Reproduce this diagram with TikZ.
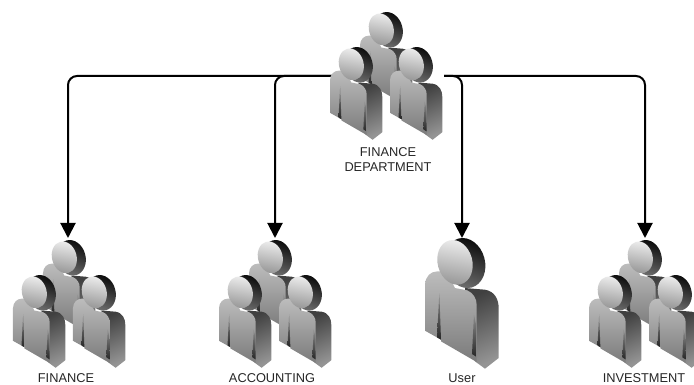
\documentclass[tikz,border=0pt]{standalone}
\usepackage{fontspec}
\setmainfont{Liberation Sans}
\usetikzlibrary{arrows.meta}
\tikzset{
  x=1pt,y=-1pt,
  iconbox/.style={inner sep=0pt,outer sep=0pt,minimum width=#1,minimum height=120pt},
  lbl/.style={font=\fontsize{12.8}{15}\selectfont,text=black!85,align=center,inner sep=0pt},
  link/.style={line width=2pt,draw=black,rounded corners=9pt,-{Triangle[width=15pt,length=15pt]}},
  person/.pic={
    \begin{scope}[shift={(-15,-13.3)},scale=.3333]
      \shade[top color=black!75,bottom color=black!42,shading angle=25] (165,190) -- (225,195) .. controls (255,200) and (266,225) .. (266,250) -- (266,400) -- (225,432) -- (195,410) -- cycle;
      \shade[top color=black!95,bottom color=black!55,shading angle=-20] (165,115) ellipse [x radius=60,y radius=76,rotate=15];
      \shade[top color=black!26,bottom color=black!52]
        (45,180) .. controls (46,155) and (62,140) .. (82,140) -- (110,140)
        -- (135,190) -- (172,197) .. controls (190,205) and (200,222) .. (200,240)
        -- (200,412) -- (93,350) -- (93,345) -- (45,318) -- cycle;
      \shade[top color=black!45,bottom color=black!85] (88,205) -- (93,345) -- (81,338) -- cycle;
      \shade[top color=black!45,bottom color=black!85] (192,270) -- (186,388) -- (200,397) -- (198,300) -- cycle;
      \shade[top color=black!8,bottom color=black!42,shading angle=-10] (135,113) ellipse [x radius=52,y radius=68,rotate=15];
    \end{scope}
  },
  crowd/.pic={
    \pic[scale=.71] at (30,0) {person};
    \pic[scale=.71] at (0,35) {person};
    \pic[scale=.71] at (60,35) {person};
  }
}
\begin{document}
\begin{tikzpicture}
\useasboundingbox (0,0) rectangle (694,385);
\node[iconbox=112pt,minimum height=128pt] (dept) at (388,76) {};
\node[iconbox=112pt] (fin) at (68,298) {};
\node[iconbox=112pt] (acc) at (275,298) {};
\node[iconbox=74pt] (usr) at (462,298) {};
\node[iconbox=112pt] (inv) at (645,298) {};
\draw[link] (dept.west) -| (fin.north);
\draw[link] (dept.west) -| (acc.north);
\draw[link] (dept.east) -| (usr.north);
\draw[link] (dept.east) -| (inv.north);
\begin{scope}
\clip (0,0) rectangle (694,385);
\pic at (330,12) {crowd};
\pic at (13,240) {crowd};
\pic at (219,240) {crowd};
\pic[scale=1] at (425,238) {person};
\pic at (589,240) {crowd};
\end{scope}
\node[lbl] (ldept) at (388,159.5) {FINANCE\\[-0.5pt]DEPARTMENT};
\node[lbl] (lfin) at (66,378) {FINANCE};
\node[lbl] (lacc) at (272,378) {ACCOUNTING};
\node[lbl] (lusr) at (462,378) {User};
\node[lbl] (linv) at (644,378) {INVESTMENT};
\end{tikzpicture}
\end{document}
